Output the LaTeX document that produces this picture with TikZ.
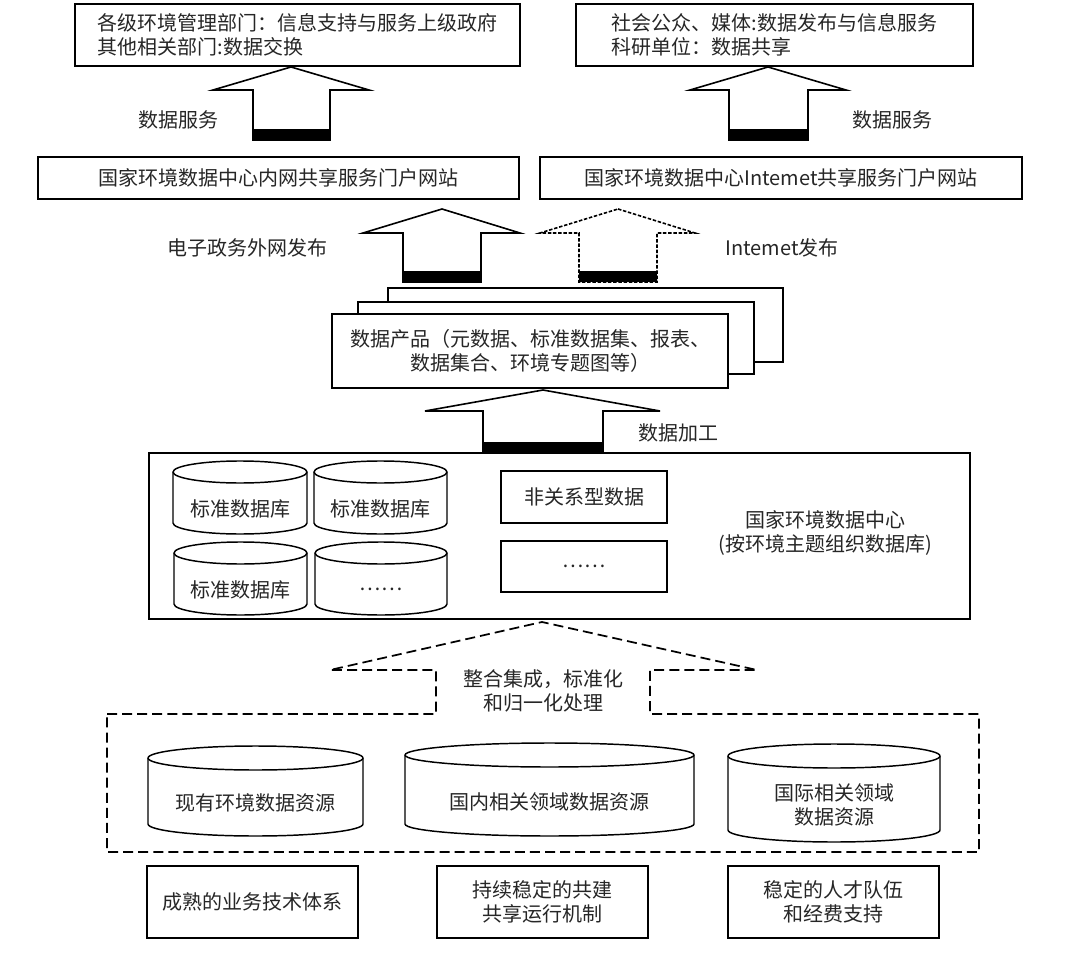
\documentclass[tikz,border=0pt]{standalone}
\usepackage{fontspec}
\setmainfont{Noto Sans CJK SC}
\newcommand{\dgfs}{\fontsize{15}{18}\selectfont}
% block arrow: tipx tipy wingL wingR wingY shaftL shaftR bottom style
\newcommand{\barrow}[9]{%
  \draw[#9] ({#1},{-#2}) -- ({#4},{-#5}) -- ({#7},{-#5}) -- ({#7},{-#8}) -- ({#6},{-#8}) -- ({#6},{-#5}) -- ({#3},{-#5}) -- cycle;
  \fill ({#6},{-#8+11}) rectangle ({#7},{-#8});
}
% cylinder: name x1 x2 ytop ybot ry
\newcommand{\dbcyl}[6]{%
  \pgfmathsetmacro\cylcx{(#2+#3)/2}%
  \pgfmathsetmacro\cylrx{(#3-#2)/2}%
  \draw[cylline] ({#2},{-(#4+#6)}) -- ({#2},{-(#5-#6)}) arc[start angle=180,end angle=360,x radius=\cylrx,y radius=#6] -- ({#3},{-(#4+#6)}) arc[start angle=0,end angle=180,x radius=\cylrx,y radius=#6] -- cycle;
  \draw[cylline,fill=none] ({#2},{-(#4+#6)}) arc[start angle=180,end angle=360,x radius=\cylrx,y radius=#6];
  \coordinate (#1c) at (\cylcx,{-((#4+2*#6+#5)/2)});
}
\begin{document}
\begin{tikzpicture}[x=0.75pt,y=0.75pt,
  bx/.style={draw, line width=1.1pt, fill=white, inner sep=0pt, align=center, font=\dgfs, text=black!85},
  sz/.style 2 args={minimum width=#1*0.75pt, minimum height=#2*0.75pt},
  lbl/.style={inner sep=0pt, align=center, font=\dgfs, text=black!85},
  arr/.style={draw, line width=1.2pt, fill=white, line join=miter},
  darr/.style={draw, line width=1.2pt, fill=white, dash pattern=on 2.6pt off 1.3pt},
  ddash/.style={draw, line width=1.3pt, dash pattern=on 7.5pt off 3.8pt},
  cylline/.style={draw, line width=1.1pt, fill=white}]
\fill[white] (0,0) rectangle (1080,-962);
\useasboundingbox (0,0) rectangle (1080,-962);

% top boxes
\node[bx, sz={445}{62}, align=left] (tl) at (297.5,-35) {各级环境管理部门：信息支持与服务上级政府\\其他相关部门:数据交换};
\node[bx, sz={397}{62}, align=left] (tr) at (774.5,-35) {社会公众、媒体:数据发布与信息服务\\科研单位：数据共享};

% arrows to top boxes
\barrow{291}{67}{213}{369}{90}{253}{330}{140}{arr}
\barrow{768}{67}{690}{846}{90}{729}{808}{140}{arr}
\node[lbl] (ls1) at (178,-120) {数据服务};
\node[lbl] (ls2) at (892,-120) {数据服务};

% portal boxes
\node[bx, sz={481}{42}] (ml) at (278.5,-178) {国家环境数据中心内网共享服务门户网站};
\node[bx, sz={482}{42}] (mr) at (781,-178) {国家环境数据中心Intemet共享服务门户网站};

% publish arrows
\barrow{442}{209}{363}{520}{233}{403}{481}{282}{arr}
\barrow{618}{209}{540}{695}{233}{579}{657}{282}{darr}
\node[lbl] (lp1) at (247,-248) {电子政务外网发布};
\node[lbl] (lp2) at (782,-248) {Intemet发布};

% stacked product boxes
\node[bx, sz={395}{74}] (p3) at (585.5,-325) {};
\node[bx, sz={396}{72}] (p2) at (556,-338) {};
\node[bx, sz={396}{74}] (p1) at (530,-351) {数据产品（元数据、标准数据集、报表、\\数据集合、环境专题图等）};

% processing arrow
\barrow{543}{390}{425}{660}{411}{483}{603}{453}{arr}
\node[lbl] (lj) at (678,-433) {数据加工};

% data center box
\node[bx, sz={821}{166}] (dc) at (559.5,-536) {};
\dbcyl{d1}{173}{307}{461}{534}{11}
\dbcyl{d2}{314}{447}{461}{534}{11}
\dbcyl{d3}{174}{307}{542}{615}{11}
\dbcyl{d4}{315}{447}{542}{615}{11}
\node[lbl] (d1) at (d1c) {标准数据库};
\node[lbl] (d2) at (d2c) {标准数据库};
\node[lbl] (d3) at (d3c) {标准数据库};
\node[lbl] (d4) at (d4c) {……};
\node[bx, sz={166}{52}] (r1) at (584,-497) {非关系型数据};
\node[bx, sz={166}{51}] (r2) at (584,-566.5) {……};
\node[lbl] (dcl) at (825,-533) {国家环境数据中心\\(按环境主题组织数据库)};

% dashed integration arrow + resource box
\draw[ddash] (107,-714) -- (436,-714) -- (436,-670) -- (330,-670) -- (542,-622) -- (757,-670) -- (650,-670) -- (650,-714) -- (979,-714) -- (979,-852) -- (107,-852) -- cycle;
\node[lbl] (ig) at (543,-690.5) {整合集成，标准化\\和归一化处理};

% resource cylinders
\dbcyl{s1}{148}{363}{746}{836}{12}
\dbcyl{s2}{405}{694}{743}{836}{12}
\dbcyl{s3}{728}{940}{744}{842}{12}
\node[lbl] (s1) at (s1c) {现有环境数据资源};
\node[lbl] (s2) at (s2c) {国内相关领域数据资源};
\node[lbl] (s3) at (s3c) {国际相关领域\\数据资源};

% support boxes
\node[bx, sz={211}{72}] (b1) at (252.5,-902) {成熟的业务技术体系};
\node[bx, sz={211}{72}] (b2) at (542.5,-902) {持续稳定的共建\\共享运行机制};
\node[bx, sz={211}{72}] (b3) at (833.5,-902) {稳定的人才队伍\\和经费支持};
\end{tikzpicture}
\end{document}
